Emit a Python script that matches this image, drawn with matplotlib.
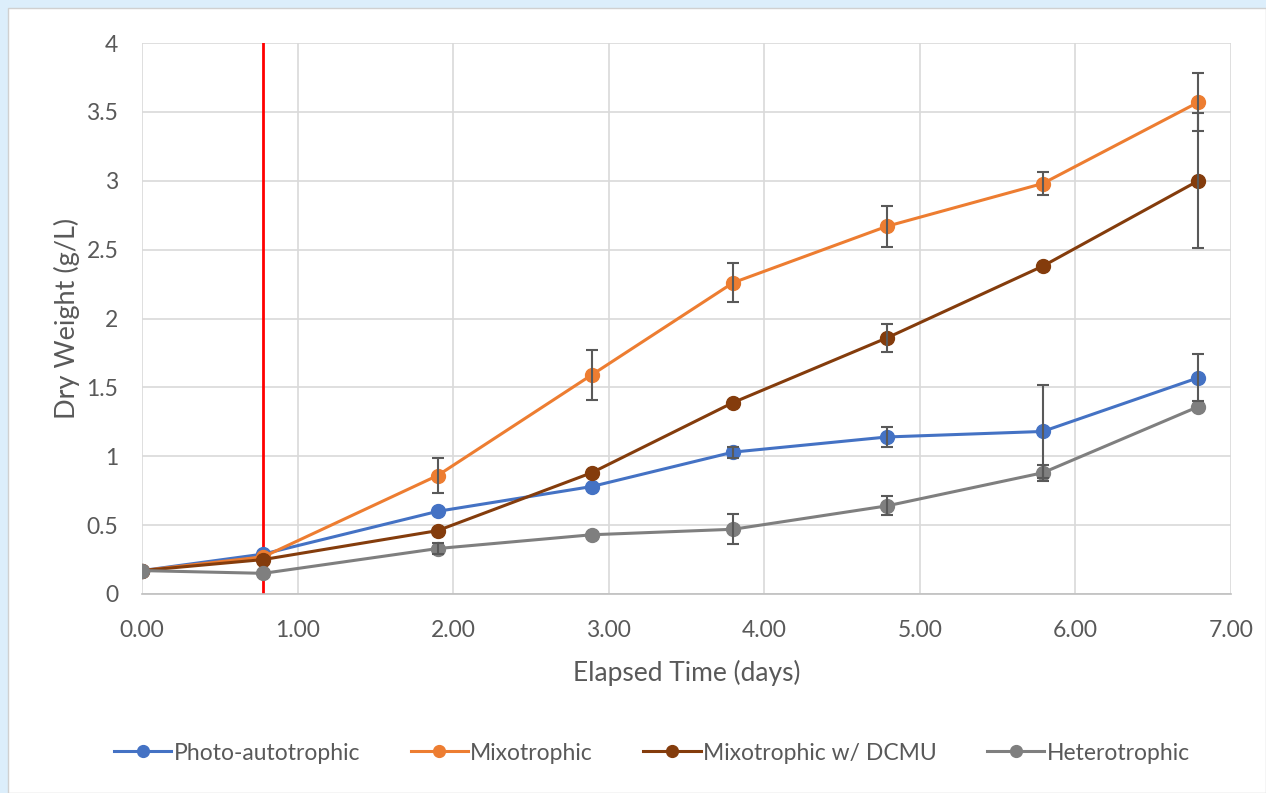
import matplotlib
matplotlib.use("Agg")
import matplotlib.pyplot as plt
from matplotlib.patches import Rectangle

plt.rcParams['font.family'] = ['Lato', 'DejaVu Sans']

days = [0.00, 0.78, 1.90, 2.89, 3.80, 4.79, 5.79, 6.79]
labels = ["Photo-autotrophic", "Mixotrophic", "Mixotrophic w/ DCMU", "Heterotrophic"]
photo = [0.17, 0.29, 0.60, 0.78, 1.03, 1.14, 1.18, 1.57]
photo_err = [0.0, 0.0, 0.0, 0.0, 0.04, 0.07, 0.34, 0.17]
mixo = [0.17, 0.27, 0.86, 1.59, 2.26, 2.67, 2.98, 3.57]
mixo_err = [0.0, 0.0, 0.13, 0.18, 0.14, 0.15, 0.085, 0.21]
dcmu = [0.17, 0.25, 0.46, 0.88, 1.39, 1.86, 2.38, 3.00]
dcmu_err = [0.0, 0.0, 0.0, 0.0, 0.0, 0.10, 0.0, 0.49]
hetero = [0.17, 0.15, 0.33, 0.43, 0.47, 0.64, 0.88, 1.36]
hetero_err = [0.0, 0.0, 0.04, 0.0, 0.11, 0.07, 0.06, 0.0]
colors = ["#4472C4", "#ED7D31", "#843C0C", "#7F7F7F"]
red_line_x = 0.78
xticks = [0, 1, 2, 3, 4, 5, 6, 7]
yticks = [0, 0.5, 1, 1.5, 2, 2.5, 3, 3.5, 4]
ytick_labels = ["0", "0.5", "1", "1.5", "2", "2.5", "3", "3.5", "4"]

W, H = 1266, 793
fig = plt.figure(figsize=(W / 100, H / 100), dpi=100)
fig.patch.set_facecolor("#DCEEFB")
fig.add_artist(Rectangle((8 / W, 0), 1 - 8 / W, 1 - 8 / H, transform=fig.transFigure,
                         facecolor="white", edgecolor="#D0D0D0", linewidth=1.0, zorder=0))

ax = fig.add_axes([142 / W, 1 - 594 / H, (1231 - 142) / W, (594 - 43) / H])
ax.set_facecolor("white")
ax.set_xlim(0, 7)
ax.set_ylim(0, 4)
ax.set_xticks(xticks)
ax.set_xticklabels([f"{v:.2f}" for v in xticks])
ax.set_yticks(yticks)
ax.set_yticklabels(ytick_labels)
ax.grid(True, color="#D9D9D9", linewidth=1.2, zorder=0)
ax.set_axisbelow(True)
for s in ["top", "right", "left"]:
    ax.spines[s].set_visible(False)
ax.spines["bottom"].set_color("#BFBFBF")
ax.spines["bottom"].set_linewidth(1.2)
ax.tick_params(axis="both", length=0, colors="#595959", labelsize=16.5)
ax.tick_params(axis="x", pad=19)
ax.tick_params(axis="y", pad=17)

ax.axvline(red_line_x, color="#FF0000", linewidth=2, zorder=2)

series = [(photo, photo_err), (mixo, mixo_err), (dcmu, dcmu_err), (hetero, hetero_err)]
for (vals, errs), c, lab in zip(series, colors, labels):
    ax.plot(days, vals, color=c, linewidth=2.2, marker="o", markersize=10,
            markeredgecolor=c, label=lab, zorder=3)
    xs = [d for d, e in zip(days, errs) if e > 0]
    ys = [v for v, e in zip(vals, errs) if e > 0]
    es = [e for e in errs if e > 0]
    ax.errorbar(xs, ys, yerr=es, fmt="none", ecolor="#595959", elinewidth=1.5,
                capsize=4.5, capthick=1.5, zorder=4)

ax.set_xlabel("Elapsed Time (days)", color="#595959", fontsize=19, labelpad=13)
ax.set_ylabel("Dry Weight (g/L)", color="#595959", fontsize=19.5, labelpad=5)

handles, labs = ax.get_legend_handles_labels()
fig.legend(handles, labs, loc="center", bbox_to_anchor=(652 / W, 1 - 753 / H), ncol=4,
           frameon=False, fontsize=16.5, labelcolor="#595959", handlelength=2.5,
           handletextpad=0.1, columnspacing=2.2, markerscale=0.85)

fig.savefig("out.png", dpi=100, facecolor=fig.get_facecolor())
